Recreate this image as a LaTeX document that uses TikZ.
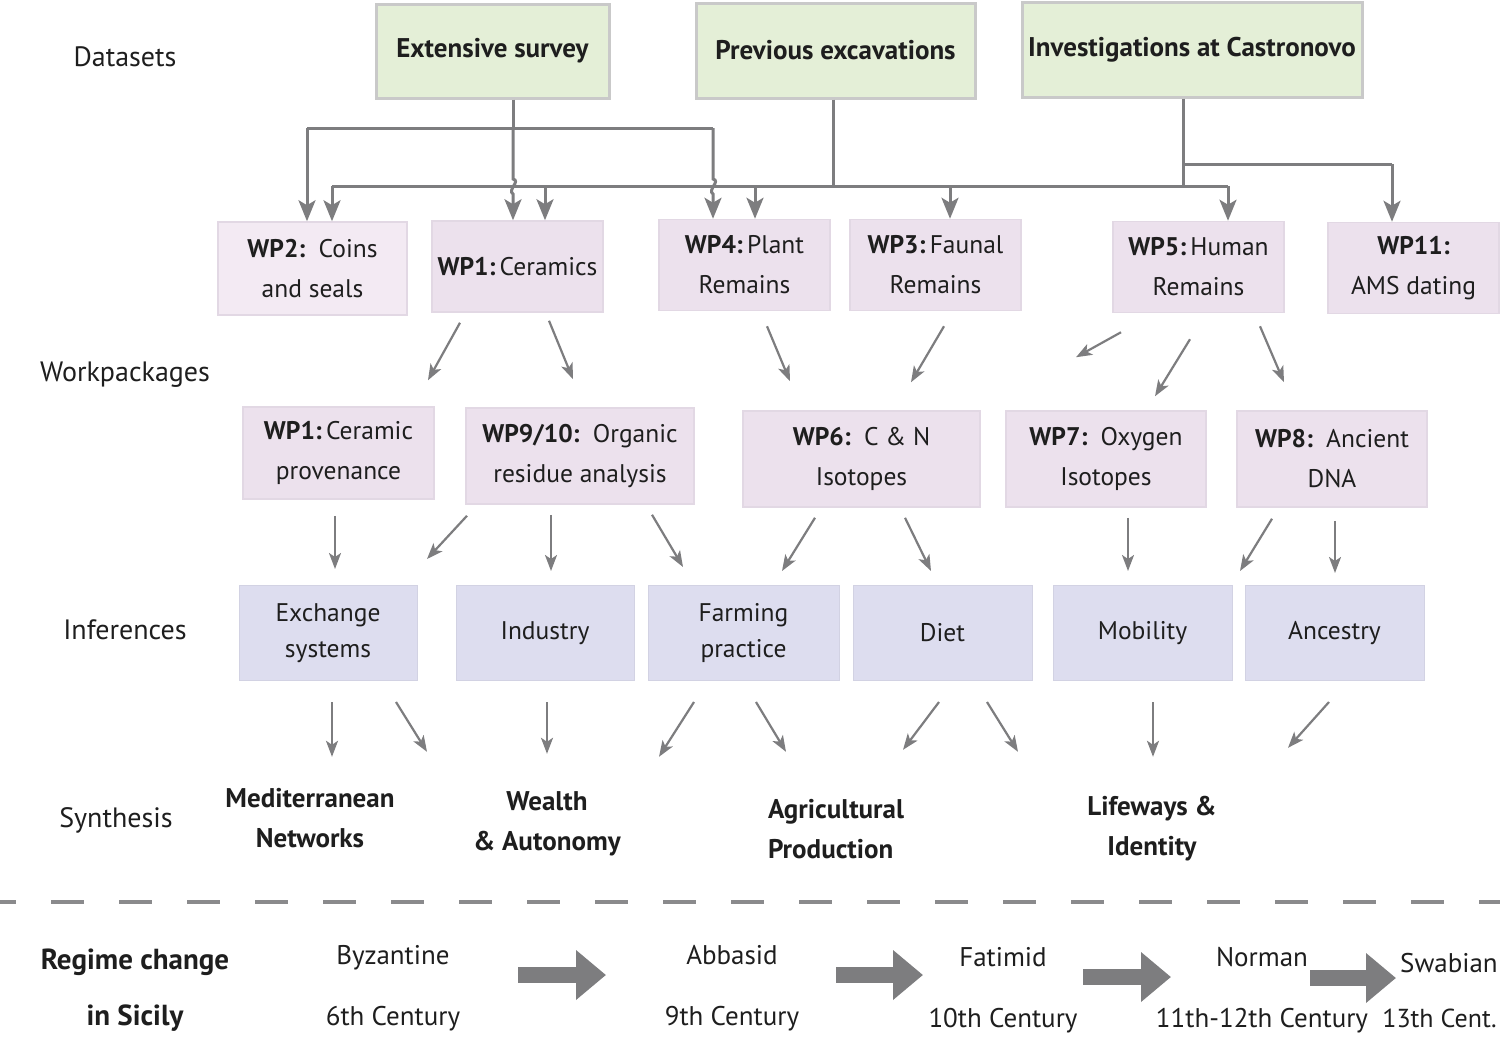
\documentclass[tikz,border=0pt]{standalone}
\usepackage{fontspec}
\setmainfont{PT Sans}
\usetikzlibrary{arrows.meta,calc}
\definecolor{dsfill}{HTML}{E4EFD7}
\definecolor{dsline}{HTML}{C9C9C9}
\definecolor{wpfill}{HTML}{ECE1ED}
\definecolor{wpline}{HTML}{E2D8E4}
\definecolor{wptwofill}{HTML}{F3EAF3}
\definecolor{inffill}{HTML}{DDDDEF}
\definecolor{conn}{HTML}{7D7D7F}
\definecolor{ink}{HTML}{1E1E1E}
\begin{document}
\begin{tikzpicture}[x=1pt,y=-1pt,
  txt/.style={text=ink, font=\fontsize{27}{40}\selectfont, align=center, inner sep=0pt},
  dsbox/.style={txt, font=\fontsize{27}{40}\selectfont\bfseries, fill=dsfill, draw=dsline, line width=3pt},
  wpbox/.style={txt, font=\fontsize{25.5}{40}\selectfont, fill=wpfill, draw=wpline, line width=1.5pt},
  infbox/.style={txt, fill=inffill, draw=inffill!95!black, line width=1pt, font=\fontsize{25.5}{36}\selectfont},
  syn/.style={txt, font=\fontsize{27}{40}\selectfont\bfseries, minimum height=90pt},
  rowlab/.style={txt, font=\fontsize{28}{40}\selectfont},
  era/.style={txt, font=\fontsize{27}{61}\selectfont},
  tline/.style={draw=conn, line width=3pt},
  tarr/.style={draw=conn, line width=3pt, -{Stealth[length=21pt,width=17pt,inset=5pt]}},
  marr/.style={draw=conn, line width=2.2pt, -{Stealth[length=16pt,width=12pt,inset=4pt]}},
  barr/.style={draw=conn, line width=16pt, -{Triangle[length=30pt,width=48pt]}}
]
\useasboundingbox (0,0) rectangle (1500,1039);
\clip (0,0) rectangle (1500,1039);

% row labels
\node[rowlab] (lds) at (125,57) {Datasets};
\node[rowlab] (lwp) at (125,375) {Workpackages};
\node[rowlab] (linf) at (125,630) {Inferences};
\node[rowlab] (lsyn) at (116,820) {Synthesis};

% datasets
\node[dsbox, minimum width=233pt, minimum height=94pt] (ds1) at (492.5,51) {Extensive survey};
\node[dsbox, minimum width=279pt, minimum height=95pt] (ds2) at (835.5,50.5) {Previous excavations};
\node[dsbox, minimum width=340pt, minimum height=95pt] (ds3) at (1192,49.5) {Investigations at Castronovo};

% workpackages row 1
\node[wpbox, fill=wptwofill, minimum width=189pt, minimum height=93pt] (wp2) at (312.5,268.5) {\textbf{WP2:}\, Coins\\and seals};
\node[wpbox, minimum width=171pt, minimum height=91pt] (wp1) at (517.5,266.5) {\textbf{WP1:}\,Ceramics};
\node[wpbox, minimum width=171pt, minimum height=91pt] (wp4) at (744.5,265) {\textbf{WP4:}\,Plant\\Remains};
\node[wpbox, minimum width=171pt, minimum height=91pt] (wp3) at (935.5,265) {\textbf{WP3:}\,Faunal\\Remains};
\node[wpbox, minimum width=171pt, minimum height=91pt] (wp5) at (1198.5,267) {\textbf{WP5:}\,Human\\Remains};
\node[wpbox, minimum width=171pt, minimum height=91pt] (wp11) at (1413.5,268) {\textbf{WP11:}\\AMS dating};

% workpackages row 2
\node[wpbox, minimum width=191pt, minimum height=92pt] (wp1b) at (338.5,453) {\textbf{WP1:}\,Ceramic\\provenance};
\node[wpbox, minimum width=228pt, minimum height=96pt] (wp9) at (580,456) {\textbf{WP9/10:}\, Organic\\residue analysis};
\node[wpbox, minimum width=237pt, minimum height=96pt] (wp6) at (861.5,459) {\textbf{WP6:}\, C \& N\\Isotopes};
\node[wpbox, minimum width=200pt, minimum height=96pt] (wp7) at (1106,459) {\textbf{WP7:}\, Oxygen\\Isotopes};
\node[wpbox, minimum width=190pt, minimum height=96pt] (wp8) at (1332,459) {\textbf{WP8:}\, Ancient\\DNA};

% inferences
\node[infbox, minimum width=178pt, minimum height=95pt] (exch) at (328,633) {Exchange\\systems};
\node[infbox, minimum width=178pt, minimum height=95pt] (ind) at (545,633) {Industry};
\node[infbox, minimum width=191pt, minimum height=95pt] (farm) at (743.5,633) {Farming\\practice};
\node[infbox, minimum width=179pt, minimum height=95pt] (diet) at (942.5,633) {Diet};
\node[infbox, minimum width=179pt, minimum height=95pt] (mob) at (1142.5,633) {Mobility};
\node[infbox, minimum width=179pt, minimum height=95pt] (anc) at (1334.5,633) {Ancestry};

% synthesis
\node[syn] (med) at (310,818) {Mediterranean\\Networks};
\node[syn] (wealth) at (547,824) {Wealth\\\& Autonomy};
\node[syn, align=left] (agri) at (836,829) {Agricultural\\Production};
\node[syn] (life) at (1152,829) {Lifeways \&\\Identity};

% ---- top connectors
\coordinate (sj) at (513,128);
\coordinate (sjL) at (307,128);
\coordinate (sjR) at (713,128);
\coordinate (eL) at (332,186);
\coordinate (e1) at (545,186);
\coordinate (ej) at (833,186);
\coordinate (e2) at (755,186);
\coordinate (e3) at (950,186);
\coordinate (eR) at (1228,186);
\coordinate (cj) at (1183,186);
\coordinate (cb) at (1183,164);
\coordinate (cbR) at (1392,164);

\draw[tline] (ds2.south -| ej) -- (ej);
\draw[tline] (ds3.south -| cj) -- (cj);
\draw[tline] (eL) -- (eR);
\draw[tarr] (eL) -- (eL |- wp2.north);
\draw[tarr] (e1) -- (e1 |- wp1.north);
\draw[tarr] (e2) -- (e2 |- wp4.north);
\draw[tarr] (e3) -- (e3 |- wp3.north);
\draw[tarr] (eR) -- (eR |- wp5.north);
\draw[tline] (cb) -- (cbR);
\draw[tarr] (cbR) -- (cbR |- wp11.north);

\draw[tline] (ds1.south -| sj) -- (sj);
\draw[tline] (sjL) -- (sjR);
\draw[tarr] (sjL) -- (sjL |- wp2.north);
\draw[tarr] (sj) -- ($(sj |- eL)+(0,-7)$) .. controls ($(sj |- eL)+(8,-5)$) and ($(sj |- eL)+(-6,4)$) .. ($(sj |- eL)+(0,8)$) -- (sj |- wp1.north);
\draw[tarr] (sjR) -- ($(sjR |- eL)+(0,-7)$) .. controls ($(sjR |- eL)+(8,-5)$) and ($(sjR |- eL)+(-6,4)$) .. ($(sjR |- eL)+(0,8)$) -- (sjR |- wp4.north);

% ---- row1 -> row2
\draw[marr] ($(wp1.south)+(-57.5,10)$) -- ($(wp1b.north)+(89.5,-26)$);
\draw[marr] ($(wp1.south)+(31.5,8)$) -- ($(wp9.north)+(-7,-28)$);
\draw[marr] ($(wp4.south)+(22.5,15)$) -- ($(wp6.north)+(-71.5,-29)$);
\draw[marr] ($(wp3.south)+(8.5,15)$) -- ($(wp6.north)+(49.5,-28)$);
\draw[marr] ($(wp5.south)+(-77.5,19)$) -- ($(wp6.north)+(214.5,-53)$);
\draw[marr] ($(wp5.south)+(-8.5,26)$) -- ($(wp7.north)+(49,-14)$);
\draw[marr] ($(wp5.south)+(61.5,13)$) -- ($(wp8.north)+(-48,-28)$);

% ---- row2 -> inferences
\draw[marr] ($(wp1b.south)+(-3.5,16)$) -- ($(exch.north)+(7,-16)$);
\draw[marr] ($(wp9.south)+(-113,11)$) -- ($(exch.north)+(99,-26)$);
\draw[marr] ($(wp9.south)+(-29,10)$) -- ($(ind.north)+(6,-14)$);
\draw[marr] ($(wp9.south)+(72,10)$) -- ($(farm.north)+(-60.5,-18)$);
\draw[marr] ($(wp6.south)+(-46.5,10)$) -- ($(farm.north)+(38.5,-14)$);
\draw[marr] ($(wp6.south)+(43.5,10)$) -- ($(diet.north)+(-11.5,-14)$);
\draw[marr] ($(wp7.south)+(22,10)$) -- ($(mob.north)+(-14.5,-14)$);
\draw[marr] ($(wp8.south)+(-60,11)$) -- ($(mob.north)+(97.5,-14)$);
\draw[marr] ($(wp8.south)+(3,13)$) -- ($(anc.north)+(0.5,-12)$);

% ---- inferences -> synthesis
\draw[marr] ($(exch.south)+(4,21)$) -- ($(med.north)+(22,-16)$);
\draw[marr] ($(exch.south)+(68,21)$) -- ($(wealth.north)+(-120,-27)$);
\draw[marr] ($(ind.south)+(2,21)$) -- ($(wealth.north)+(0,-25)$);
\draw[marr] ($(farm.south)+(-49.5,21)$) -- ($(wealth.north)+(112,-22)$);
\draw[marr] ($(farm.south)+(12.5,21)$) -- ($(agri.north)+(-50,-32)$);
\draw[marr] ($(diet.south)+(-3.5,21)$) -- ($(agri.north)+(67,-34)$);
\draw[marr] ($(diet.south)+(44.5,21)$) -- ($(life.north)+(-134,-32)$);
\draw[marr] ($(mob.south)+(10.5,21)$) -- ($(life.north)+(1,-27)$);
\draw[marr] ($(anc.south)+(-5.5,21)$) -- ($(life.north)+(136,-36)$);

% ---- dashed separator
\coordinate (dl) at (-17,902);
\coordinate (dr) at (1500,902);
\draw[draw=conn!90, line width=4pt, dash pattern=on 33pt off 35pt] (dl) -- (dr);

% ---- regime timeline
\node[era, font=\fontsize{29}{56}\selectfont\bfseries] (reg) at (135,990) {Regime change\\in Sicily};
\node[era] (byz) at (393,988) {Byzantine\\6th Century};
\node[era] (abb) at (732,988) {Abbasid\\9th Century};
\node[era] (fat) at (1003,990) {Fatimid\\10th Century};
\node[era] (nor) at (1262,990) {Norman\\11th-12th Century};
\node[era, anchor=west] (swa) at (1400,963) {Swabian};
\node[era, anchor=east, font=\fontsize{26}{40}\selectfont] (swb) at (1497,1018) {13th Cent.};

\coordinate (b1s) at (518,975); \coordinate (b1e) at (606,975);
\coordinate (b2s) at (836,975); \coordinate (b2e) at (923,975);
\coordinate (b3s) at (1083,977); \coordinate (b3e) at (1171,977);
\coordinate (b4s) at (1310,978); \coordinate (b4e) at (1396,978);
\draw[barr] (b1s) -- (b1e);
\draw[barr] (b2s) -- (b2e);
\draw[barr] (b3s) -- (b3e);
\draw[barr] (b4s) -- (b4e);
\end{tikzpicture}
\end{document}
